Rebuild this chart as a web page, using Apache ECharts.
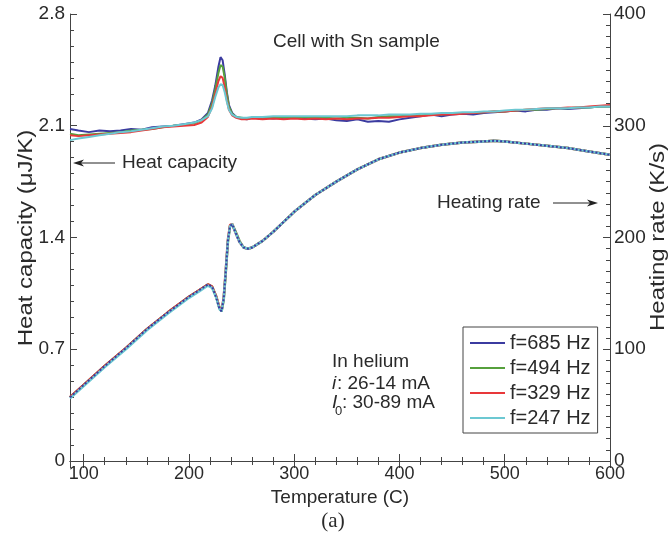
<!DOCTYPE html>
<html><head><meta charset="utf-8">
<script src="https://cdn.jsdelivr.net/npm/echarts@6/dist/echarts.min.js"></script>
<style>html,body{margin:0;padding:0;background:#fff}#c{width:670px;height:542px}</style>
</head><body><div id="c"></div>
<script>
// ---------- DATA ----------
const seriesNames = ['f=685 Hz', 'f=494 Hz', 'f=329 Hz', 'f=247 Hz'];
const seriesColors = ['#3b3ba0', '#56a03c', '#e8383a', '#6cc8d2'];

// Heat capacity (uJ/K) vs temperature (C)
const tHC = [87,95,105,115,125,135,145,155,165,175,185,195,205,
  212,218,222,225,228,230,232,234,236,238,241,245,250,255,260,
  270,280,290,300,310,320,330,340,350,360,370,380,390,400,410,420,430,440,450,460,470,480,490,500,510,520,530,540,550,560,570,580,590,600];
const hc685 = [2.08,2.07,2.06,2.07,2.065,2.07,2.08,2.075,2.09,2.095,2.10,2.11,2.12,
  2.14,2.18,2.26,2.35,2.47,2.53,2.51,2.42,2.31,2.23,2.18,2.155,2.145,2.14,2.15,
  2.15,2.145,2.15,2.15,2.145,2.14,2.145,2.135,2.13,2.14,2.125,2.13,2.125,2.14,2.15,2.16,2.17,2.16,2.17,2.175,2.17,2.18,2.185,2.19,2.195,2.19,2.20,2.20,2.21,2.205,2.21,2.215,2.22,2.22];
const hc494 = [2.05,2.04,2.045,2.05,2.055,2.06,2.07,2.075,2.08,2.09,2.10,2.105,2.115,
  2.135,2.17,2.24,2.33,2.43,2.48,2.47,2.40,2.30,2.22,2.175,2.155,2.15,2.145,2.15,
  2.15,2.15,2.155,2.15,2.155,2.15,2.15,2.145,2.15,2.15,2.145,2.155,2.16,2.16,2.165,2.165,2.17,2.17,2.175,2.18,2.18,2.185,2.19,2.19,2.195,2.20,2.20,2.205,2.21,2.21,2.215,2.215,2.22,2.22];
const hc329 = [2.04,2.035,2.04,2.045,2.05,2.055,2.06,2.07,2.08,2.09,2.095,2.10,2.105,
  2.12,2.155,2.22,2.30,2.38,2.41,2.40,2.34,2.26,2.20,2.165,2.15,2.14,2.14,2.145,
  2.14,2.145,2.14,2.145,2.14,2.145,2.14,2.145,2.14,2.145,2.145,2.15,2.15,2.155,2.16,2.16,2.165,2.17,2.17,2.175,2.18,2.185,2.19,2.19,2.195,2.20,2.205,2.21,2.21,2.215,2.215,2.22,2.225,2.23];
const hc247 = [2.01,2.02,2.03,2.04,2.05,2.06,2.065,2.075,2.085,2.095,2.10,2.11,2.12,
  2.135,2.16,2.21,2.28,2.34,2.36,2.355,2.31,2.25,2.20,2.17,2.155,2.15,2.15,2.155,
  2.155,2.16,2.16,2.16,2.16,2.16,2.16,2.16,2.16,2.165,2.165,2.165,2.17,2.17,2.17,2.175,2.175,2.18,2.18,2.185,2.185,2.19,2.19,2.195,2.20,2.20,2.205,2.21,2.21,2.21,2.215,2.215,2.22,2.22];

// Heating rate (K/s) vs temperature (C)
const tRate = [87,100,120,140,160,180,200,210,218,222,226,229,231,233,235,237,239,241,244,248,252,256,260,
  270,280,290,300,320,340,360,380,400,420,440,460,480,490,500,520,540,560,580,600];
const rate685 = [57,68,85,101,118,133,147,153,158,156,146,136,134,145,170,197,210,212,205,196,191,190,191,
  197,205,214,223,238,250,261,270,276,280,283,285,286,286.5,286,284,282,280,277,274];
const rate494 = [57,68,85,101,118,133,147,153,158,156,147,137,134,144,169,196,210,212,206,197,191,190,191,
  197,205,214,223,238,250,261,270,276,280,283,285,286,286.5,286,284,282,280,277,274];
const rate329 = [57,68,85,101,118,133,147,153,158,156,147,137,135,146,171,198,211,212,205,196,191,190,191,
  197,205,214,223,238,250,261,270,276,280,283,285,286,286.5,286,284,282,280,277,274];
const rate247 = [56,67,84,100,117,132,146,152,157,155,146,136,134,145,170,197,210,212,205,196,191,190,191,
  197,205,214,223,238,250,261,270,276,280,283,285,286,286.5,286,284,282,280,277,274];

const xTicks = [100, 200, 300, 400, 500, 600];
const hcTicks = [0, 0.7, 1.4, 2.1, 2.8];
const rateTicks = [0, 100, 200, 300, 400];

// ---------- CHART ----------
const FONT = 'Liberation Sans, Arial, sans-serif';
const AX = '#444';
const TXT = '#2a2a2a';
const pair = (xs, ys) => xs.map((x, i) => [x, ys[i]]);

const hcData = [hc685, hc494, hc329, hc247];
const rateData = [rate685, rate494, rate329, rate247];

const series = [];
for (let k = 0; k < 4; k++) {
  series.push({
    name: seriesNames[k], type: 'line', xAxisIndex: 0, yAxisIndex: 0,
    data: pair(tHC, hcData[k]), symbol: 'none',
    lineStyle: { width: 2, color: seriesColors[k] }, itemStyle: { color: seriesColors[k] },
    z: 2 + k
  });
}
// heating-rate traces overlap almost exactly; the 685 Hz trace shows as dots on top
const rateStyle = [
  { width: 2, type: 'dotted', z: 12 },
  { width: 2.5, type: 'solid', z: 9 },
  { width: 2.5, type: 'solid', z: 10 },
  { width: 2.5, type: 'solid', z: 11 }
];
for (let k = 0; k < 4; k++) {
  series.push({
    name: seriesNames[k], type: 'line', xAxisIndex: 0, yAxisIndex: 1,
    data: pair(tRate, rateData[k]), symbol: 'none',
    lineStyle: { width: rateStyle[k].width, type: rateStyle[k].type, color: seriesColors[k] },
    itemStyle: { color: seriesColors[k] },
    z: rateStyle[k].z
  });
}

const xCommon = {
  type: 'value', min: 87, max: 600, splitNumber: 5,
  axisLine: { show: true, lineStyle: { color: AX, width: 1 } },
  axisTick: { show: true, inside: true, length: 7, lineStyle: { color: AX } },
  minorTick: { show: true, splitNumber: 5, length: 4, lineStyle: { color: AX } },
  splitLine: { show: false }
};

const txt = (x, y, s, extra) => ({ type: 'text', x: x, y: y,
  style: Object.assign({ text: s, fontFamily: FONT, fontSize: 19, fill: TXT, verticalAlign: 'middle' }, extra || {}) });

const option = {
  animation: false,
  backgroundColor: '#fff',
  grid: { left: 70, right: 60, top: 14, bottom: 81, containLabel: false },
  legend: {
    data: seriesNames, orient: 'vertical', left: 463, top: 327,
    icon: 'rect', itemWidth: 35, itemHeight: 2, itemGap: 5,
    padding: [6, 7, 5, 7], borderColor: AX, borderWidth: 1, backgroundColor: '#fff',
    textStyle: { fontFamily: FONT, fontSize: 20, lineHeight: 20, color: TXT },
    selectedMode: false
  },
  xAxis: [
    Object.assign({}, xCommon, {
      position: 'bottom',
      axisLabel: { show: true, fontFamily: FONT, fontSize: 18, color: TXT, margin: 4, showMinLabel: false,
        formatter: v => (xTicks.indexOf(Math.round(v)) >= 0 ? String(Math.round(v)) : '') },
      name: 'Temperature (C)', nameLocation: 'middle', nameGap: 24,
      nameTextStyle: { fontFamily: FONT, fontSize: 19, color: TXT }
    }),
    Object.assign({}, xCommon, { position: 'top', axisLabel: { show: false } })
  ],
  yAxis: [
    {
      type: 'value', position: 'left', min: hcTicks[0], max: hcTicks[hcTicks.length - 1], interval: 0.7,
      axisLine: { show: true, lineStyle: { color: AX } },
      axisTick: { show: true, inside: true, length: 7, lineStyle: { color: AX } },
      minorTick: { show: true, splitNumber: 7, length: 4, lineStyle: { color: AX } },
      splitLine: { show: false },
      axisLabel: { fontFamily: FONT, fontSize: 19, color: TXT, margin: 5,
        formatter: v => String(Math.round(v * 10) / 10) }
    },
    {
      type: 'value', position: 'right', min: rateTicks[0], max: rateTicks[rateTicks.length - 1], interval: 100,
      axisLine: { show: true, lineStyle: { color: AX } },
      axisTick: { show: true, inside: true, length: 7, lineStyle: { color: AX } },
      minorTick: { show: true, splitNumber: 10, length: 4, lineStyle: { color: AX } },
      splitLine: { show: false },
      axisLabel: { fontFamily: FONT, fontSize: 19, color: TXT, margin: 4 }
    }
  ],
  graphic: [
    { type: 'text', x: 26, y: 238, rotation: Math.PI / 2, scaleX: 1.2, scaleY: 1,
      style: { text: 'Heat capacity (\u03bcJ/K)', fontFamily: FONT, fontSize: 20, fill: TXT, align: 'center', verticalAlign: 'middle' } },
    { type: 'text', x: 658, y: 237, rotation: Math.PI / 2, scaleX: 1.2, scaleY: 1,
      style: { text: 'Heating rate (K/s)', fontFamily: FONT, fontSize: 20, fill: TXT, align: 'center', verticalAlign: 'middle' } },
    txt(273, 42, 'Cell with Sn sample'),
    txt(122, 163, 'Heat capacity'),
    { type: 'line', shape: { x1: 115, y1: 163, x2: 78, y2: 163 }, style: { stroke: '#222', lineWidth: 1 } },
    { type: 'polygon', shape: { points: [[73, 163], [84, 159.5], [81, 163], [84, 166.5]] }, style: { fill: '#222' } },
    txt(437, 203, 'Heating rate'),
    { type: 'line', shape: { x1: 553, y1: 203, x2: 592, y2: 203 }, style: { stroke: '#222', lineWidth: 1 } },
    { type: 'polygon', shape: { points: [[598, 203], [587, 199.5], [590, 203], [587, 206.5]] }, style: { fill: '#222' } },
    txt(332, 362, 'In helium'),
    txt(332, 384, 'i', { fontStyle: 'italic' }),
    txt(337, 384, ': 26-14 mA'),
    txt(332, 403, 'I', { fontStyle: 'italic' }),
    txt(335, 411, '0', { fontSize: 13 }),
    txt(342, 403, ': 30-89 mA'),
    txt(333, 521, '(a)', { fontFamily: 'Liberation Serif, DejaVu Serif, serif', fontSize: 21, align: 'center' })
  ],
  series: series
};

const chart = echarts.init(document.getElementById('c'), null, { renderer: 'canvas' });
chart.setOption(option);
</script></body></html>
